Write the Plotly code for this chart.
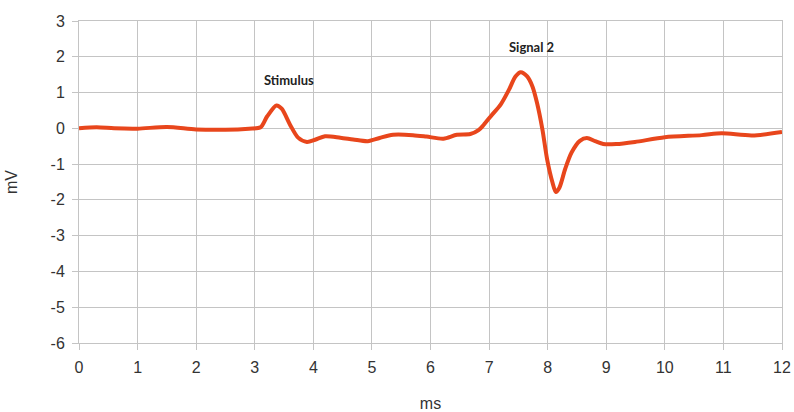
import plotly.graph_objects as go

time_ms = [0.0, 0.3, 0.6, 1.0, 1.5, 2.0, 2.5, 2.9, 3.1, 3.21, 3.37, 3.46, 3.6, 3.74,
           3.89, 4.03, 4.2, 4.46, 4.68, 4.93, 5.13, 5.36, 5.7, 5.93, 6.22, 6.45,
           6.68, 6.82, 6.91, 7.03, 7.2, 7.34, 7.45, 7.54, 7.65, 7.74, 7.82, 7.91,
           7.99, 8.08, 8.14, 8.2, 8.3, 8.41, 8.55, 8.67, 8.81, 8.95, 9.17, 9.49,
           10.0, 10.63, 10.97, 11.49, 12.0]
voltage_mv = [0.0, 0.03, 0.0, -0.01, 0.04, -0.03, -0.04, -0.01, 0.03, 0.33, 0.64, 0.55,
              0.11, -0.26, -0.38, -0.32, -0.22, -0.26, -0.31, -0.36, -0.27, -0.18,
              -0.19, -0.23, -0.29, -0.18, -0.16, -0.05, 0.1, 0.34, 0.67, 1.08, 1.45,
              1.57, 1.45, 1.17, 0.7, -0.03, -0.86, -1.5, -1.78, -1.66, -1.13, -0.67,
              -0.35, -0.27, -0.36, -0.44, -0.44, -0.38, -0.25, -0.19, -0.14, -0.2, -0.1]

annot_text = ["Stimulus", "Signal 2"]
annot_x = [3.58, 7.73]
annot_y = [1.35, 2.28]

x_ticks = list(range(0, 13))
y_ticks = list(range(-6, 4))

grid = "#c4c4c4"
tick_font = dict(family="Liberation Sans, Arial, sans-serif", size=16, color="#333333")

fig = go.Figure()
fig.add_trace(go.Scatter(
    x=time_ms, y=voltage_mv, mode="lines",
    line=dict(color="#e8461c", width=4, shape="spline", smoothing=0.8),
    showlegend=False, hoverinfo="x+y",
))

for t, ax_, ay_ in zip(annot_text, annot_x, annot_y):
    fig.add_annotation(x=ax_, y=ay_, text="<b>" + t + "</b>", showarrow=False,
                       font=dict(family="Lato, Open Sans, sans-serif", size=13, color="#222222"),
                       xanchor="center", yanchor="middle")

fig.update_layout(
    width=794, height=412,
    margin=dict(l=79, r=12, t=21, b=69),
    paper_bgcolor="white", plot_bgcolor="white",
    font=tick_font,
)
fig.update_xaxes(
    range=[0, 12], tickvals=x_ticks, ticktext=[str(v) for v in x_ticks],
    showgrid=True, gridcolor=grid, gridwidth=1,
    showline=True, linecolor=grid, linewidth=1, mirror=True,
    ticks="outside", ticklen=6, tickcolor=grid, zeroline=False,
    tickfont=tick_font, automargin=False, ticklabelstandoff=4,
    title=dict(text="ms", font=dict(family=tick_font["family"], size=16, color="#333333"), standoff=24),
)
fig.update_yaxes(
    range=[-6, 3], tickvals=y_ticks, ticktext=[str(v) for v in y_ticks],
    showgrid=True, gridcolor=grid, gridwidth=1,
    showline=True, linecolor=grid, linewidth=1, mirror=True,
    ticks="outside", ticklen=6, tickcolor=grid, zeroline=False,
    tickfont=tick_font, automargin=False, ticklabelstandoff=4,
    title=dict(text="mV", font=dict(family=tick_font["family"], size=16, color="#333333"), standoff=28),
)

# remove the default page margin so the 794x412 figure fills the window exactly
fig.write_html(
    "out.html",
    config={"displayModeBar": False},
    post_script="document.body.style.margin='0';document.documentElement.style.overflow='hidden';",
)
